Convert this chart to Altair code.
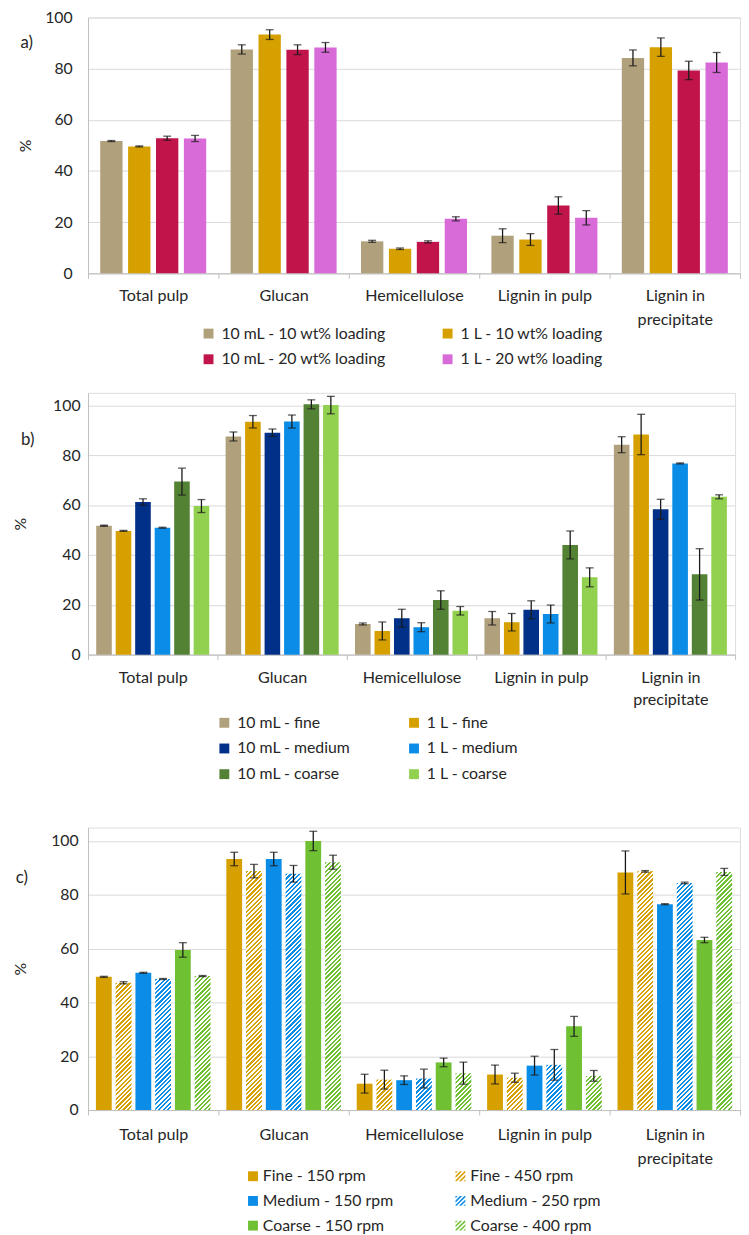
import altair as alt
import pandas as pd

FONT = "Lato"
TXT = "#262626"
AXC = "#bfbfbf"
GRID = "#d9d9d9"

categories = ["Total pulp", "Glucan", "Hemicellulose", "Lignin in pulp", "Lignin in precipitate"]
y_ticks = [0, 20, 40, 60, 80, 100]

# ---------------- panel a ----------------
a_series = ["10 mL - 10 wt% loading", "1 L - 10 wt% loading", "10 mL - 20 wt% loading", "1 L - 20 wt% loading"]
a_colors = ["#b0a07b", "#d6a000", "#c0144a", "#d96bd9"]
a_10ml_10wt = [51.7, 87.5, 12.5, 14.7, 84.2]
a_10ml_10wt_err = [0.2, 1.8, 0.4, 2.7, 3.1]
a_1l_10wt = [49.6, 93.3, 9.6, 13.2, 88.4]
a_1l_10wt_err = [0.2, 1.9, 0.3, 2.3, 3.6]
a_10ml_20wt = [52.8, 87.4, 12.3, 26.5, 79.3]
a_10ml_20wt_err = [0.8, 1.9, 0.4, 3.4, 3.6]
a_1l_20wt = [52.7, 88.3, 21.3, 21.7, 82.4]
a_1l_20wt_err = [1.2, 1.9, 0.8, 2.8, 3.9]

# ---------------- panel b ----------------
b_series = ["10 mL - fine", "1 L - fine", "10 mL - medium", "1 L - medium", "10 mL - coarse", "1 L - coarse"]
b_colors = ["#b0a07b", "#d6a000", "#003087", "#0b8ce6", "#548235", "#92d050"]
b_10ml_fine = [51.7, 87.5, 12.3, 14.6, 84.2]
b_10ml_fine_err = [0.2, 1.8, 0.4, 2.7, 3.2]
b_1l_fine = [49.6, 93.4, 9.5, 13.0, 88.3]
b_1l_fine_err = [0.2, 2.5, 3.6, 3.5, 8.1]
b_10ml_medium = [61.2, 89.0, 14.6, 18.0, 58.3]
b_10ml_medium_err = [1.3, 1.5, 3.6, 3.6, 4.0]
b_1l_medium = [50.9, 93.5, 11.0, 16.3, 76.7]
b_1l_medium_err = [0.2, 2.6, 1.8, 3.6, 0.2]
b_10ml_coarse = [69.4, 100.4, 21.9, 44.0, 32.2]
b_10ml_coarse_err = [5.4, 1.8, 3.7, 5.6, 10.3]
b_1l_coarse = [59.6, 100.1, 17.6, 31.0, 63.3]
b_1l_coarse_err = [2.6, 3.5, 1.7, 3.8, 0.8]

# ---------------- panel c ----------------
c_series = ["Fine - 150 rpm", "Fine - 450 rpm", "Medium - 150 rpm", "Medium - 250 rpm", "Coarse - 150 rpm", "Coarse - 400 rpm"]
c_colors = ["#d6a000", "#d6a000", "#0b8ce6", "#0b8ce6", "#70c034", "#70c034"]
c_hatched = [False, True, False, True, False, True]
c_fine_150 = [49.5, 93.3, 9.8, 13.2, 88.3]
c_fine_150_err = [0.2, 2.5, 3.5, 3.5, 8.0]
c_fine_450 = [47.3, 88.8, 11.3, 12.0, 88.7]
c_fine_450_err = [0.4, 2.5, 3.5, 1.7, 0.3]
c_medium_150 = [51.0, 93.3, 11.1, 16.5, 76.5]
c_medium_150_err = [0.2, 2.5, 1.6, 3.5, 0.2]
c_medium_250 = [48.7, 87.8, 11.7, 16.8, 84.4]
c_medium_250_err = [0.2, 3.1, 3.5, 5.7, 0.3]
c_coarse_150 = [59.5, 100.0, 17.7, 31.1, 63.2]
c_coarse_150_err = [2.7, 3.6, 1.6, 3.7, 1.0]
c_coarse_400 = [49.8, 92.1, 13.7, 12.7, 88.5]
c_coarse_400_err = [0.2, 2.6, 4.1, 2.0, 1.3]


def long_df(series, values, errors):
    rows = []
    for s, vals, errs in zip(series, values, errors):
        for cat, v, e in zip(categories, vals, errs):
            rows.append({"cat": cat, "series": s, "value": v, "err": e, "lo": v - e, "hi": v + e})
    return pd.DataFrame(rows)


df_a = long_df(a_series, [a_10ml_10wt, a_1l_10wt, a_10ml_20wt, a_1l_20wt],
               [a_10ml_10wt_err, a_1l_10wt_err, a_10ml_20wt_err, a_1l_20wt_err])
df_b = long_df(b_series, [b_10ml_fine, b_1l_fine, b_10ml_medium, b_1l_medium, b_10ml_coarse, b_1l_coarse],
               [b_10ml_fine_err, b_1l_fine_err, b_10ml_medium_err, b_1l_medium_err, b_10ml_coarse_err, b_1l_coarse_err])
df_c = long_df(c_series, [c_fine_150, c_fine_450, c_medium_150, c_medium_250, c_coarse_150, c_coarse_400],
               [c_fine_150_err, c_fine_450_err, c_medium_150_err, c_medium_250_err, c_coarse_150_err, c_coarse_400_err])

LABEL_EXPR = "datum.label == 'Lignin in precipitate' ? ['Lignin in', 'precipitate'] : datum.label"


def enc_x(labpad, lineh):
    return alt.X("cat:N", sort=categories, title=None,
                 scale=alt.Scale(paddingInner=0, paddingOuter=0),
                 axis=alt.Axis(labelAngle=0, tickBand="extent", tickSize=5, tickColor=AXC,
                               domainColor=AXC, labelPadding=labpad, labelLineHeight=lineh,
                               labelExpr=LABEL_EXPR, labelFont=FONT, labelFontSize=16.3,
                               labelColor=TXT, grid=False))


def enc_xoff(series, po):
    return alt.XOffset("series:N", sort=series,
                       scale=alt.Scale(domain=series, paddingInner=0.2, paddingOuter=po))


def y_axis(ylabpad, titlex, height):
    return alt.Axis(values=y_ticks, grid=True, gridColor=GRID, domainColor=AXC, ticks=False,
                    tickSize=0, labelPadding=ylabpad, labelFont=FONT, labelFontSize=16,
                    labelColor=TXT, title="%", titleFont=FONT, titleFontSize=16,
                    titleFontWeight="normal", titleColor=TXT, titleAngle=-90,
                    titleX=titlex, titleY=height / 2, titleAlign="center",
                    titleBaseline="middle")


def enc_y(field, ymax, ylabpad, titlex, height):
    return alt.Y(field, scale=alt.Scale(domain=[0, ymax], nice=False),
                 axis=y_axis(ylabpad, titlex, height))


def error_layers(df, series, po, ymax, ylabpad, titlex, height):
    base = alt.Chart(df)
    whisk = base.mark_rule(color="#1a1a1a", strokeWidth=1.3).encode(
        x=alt.X("cat:N", sort=categories), xOffset=enc_xoff(series, po),
        y=enc_y("lo:Q", ymax, ylabpad, titlex, height), y2="hi:Q")
    cap_lo = base.mark_tick(color="#1a1a1a", size=8, thickness=1.3).encode(
        x=alt.X("cat:N", sort=categories), xOffset=enc_xoff(series, po),
        y=enc_y("lo:Q", ymax, ylabpad, titlex, height))
    cap_hi = base.mark_tick(color="#1a1a1a", size=8, thickness=1.3).encode(
        x=alt.X("cat:N", sort=categories), xOffset=enc_xoff(series, po),
        y=enc_y("hi:Q", ymax, ylabpad, titlex, height))
    return [whisk, cap_lo, cap_hi]


def letter_layer(letter, lx, ly):
    return alt.Chart(pd.DataFrame({"t": [letter]})).mark_text(
        font=FONT, fontSize=17, color=TXT, align="center", baseline="middle").encode(
        text="t:N", x=alt.value(lx), y=alt.value(ly))


def legend(lx, ly, colpad, pad=0):
    return alt.Legend(title=None, orient="none", legendX=lx, legendY=ly, columns=2,
                      direction="horizontal", columnPadding=colpad, rowPadding=10,
                      symbolType="square", symbolSize=100, symbolStrokeWidth=0,
                      labelFont=FONT, labelFontSize=16, labelColor=TXT,
                      labelOffset=5, padding=pad, labelLimit=300)


def simple_panel(df, series, colors, W, H, ymax, po, ylabpad, titlex, labpad, lineh,
                 letter, lxy, leg):
    bars = alt.Chart(df).mark_bar().encode(
        x=enc_x(labpad, lineh), xOffset=enc_xoff(series, po),
        y=enc_y("value:Q", ymax, ylabpad, titlex, H),
        color=alt.Color("series:N", sort=series, scale=alt.Scale(domain=series, range=colors),
                        legend=leg))
    layers = [bars] + error_layers(df, series, po, ymax, ylabpad, titlex, H) + [letter_layer(letter, *lxy)]
    return alt.layer(*layers).properties(width=W, height=H)


# panel a
WA, HA = 660, 259
pa = simple_panel(df_a, a_series, a_colors, WA, HA, 100, 0.437, 16, -63, 10, 24,
                  "a)", (-62, 26), legend(114, 312, 54))

# panel b
WB, HB = 655, 265
PB = 20
pb = simple_panel(df_b, b_series, b_colors, WB, HB, 105, 0.42, 8, -68, 10, 22,
                  "b)", (-61, 48), legend(130 - PB, 326 - PB, 56, PB))

# panel c (hatched bars for the higher-rpm series)
WC, HC = 660, 286
PO_C = 0.4
step_c = (WC / len(categories)) / (len(c_series) - 0.2 + 2 * PO_C)
bar_w = step_c * 0.8
HATCH_PERIOD = 4.5


def hatch_gradient(color, w, h):
    L = w + h
    d = w * w + h * h
    T = HATCH_PERIOD / L
    stops = []
    k = 0
    while k * T < 1:
        a = round(k * T, 5)
        b = round(min((k + 0.5) * T, 1), 5)
        c = round(min((k + 1) * T, 1), 5)
        stops += [{"offset": a, "color": color}, {"offset": b, "color": color},
                  {"offset": b, "color": "#ffffff"}, {"offset": c, "color": "#ffffff"}]
        k += 1
    return {"gradient": "linear", "x1": 0, "y1": 0, "x2": L * w / d, "y2": L * h / d, "stops": stops}


color_of = dict(zip(c_series, c_colors))
hatched_names = [s for s, h in zip(c_series, c_hatched) if h]
df_c_solid = df_c[~df_c["series"].isin(hatched_names)].reset_index(drop=True)
df_c_hatch = df_c[df_c["series"].isin(hatched_names)].reset_index(drop=True)
df_c_hatch["grad"] = [hatch_gradient(color_of[s], bar_w, v * HC / 105.0)
                      for s, v in zip(df_c_hatch["series"], df_c_hatch["value"])]


def clip(poly, f):
    out = []
    n = len(poly)
    for i in range(n):
        p, q = poly[i], poly[(i + 1) % n]
        fp, fq = f(p), f(q)
        if fp >= 0:
            out.append(p)
        if (fp >= 0) != (fq >= 0):
            t = fp / (fp - fq)
            out.append((p[0] + t * (q[0] - p[0]), p[1] + t * (q[1] - p[1])))
    return out


def hatch_symbol(period=0.9):
    square = [(-1, -1), (1, -1), (1, 1), (-1, 1)]
    parts = []
    c = -2.0
    while c < 2.0:
        poly = clip(square, lambda p, c=c: p[0] + p[1] - c)
        poly = clip(poly, lambda p, c=c: c + period / 2 - (p[0] + p[1]))
        if len(poly) >= 3:
            parts.append("M" + "L".join(f"{x:.3f},{y:.3f}" for x, y in poly) + "Z")
        c += period
    return "".join(parts)


SQUARE = "M-1,-1L1,-1L1,1L-1,1Z"
HATCH = hatch_symbol()
c_shapes = [HATCH if h else SQUARE for h in c_hatched]

c_solid = alt.Chart(df_c_solid).mark_bar().encode(
    x=enc_x(12, 24), xOffset=enc_xoff(c_series, PO_C),
    y=enc_y("value:Q", 105, 10, -68, HC),
    color=alt.Color("series:N", scale=alt.Scale(domain=c_series, range=c_colors), legend=None))
c_hatch = alt.Chart(df_c_hatch).mark_bar().encode(
    x=alt.X("cat:N", sort=categories), xOffset=enc_xoff(c_series, PO_C),
    y=enc_y("value:Q", 105, 10, -68, HC),
    fill=alt.Fill("grad:N", scale=None, legend=None))
pc_main = alt.layer(c_solid, c_hatch, *error_layers(df_c, c_series, PO_C, 105, 10, -68, HC),
                    letter_layer("c)", -67, 51))

# legend of panel c (two columns, row-major), with hatched key symbols
key_df = pd.DataFrame({"series": c_series,
                       "kcol": [i % 2 for i in range(len(c_series))],
                       "krow": [i // 2 for i in range(len(c_series))]})
key_x = alt.X("kcol:Q", scale=alt.Scale(domain=[0, 1], range=[167, 377]), axis=None)
key_y = alt.Y("krow:Q", scale=alt.Scale(domain=[0, 2], range=[HC + 67, HC + 117]), axis=None)
key_sym = alt.Chart(key_df).mark_point(filled=True, size=100, strokeWidth=0, opacity=1).encode(
    x=key_x, y=key_y,
    color=alt.Color("series:N", scale=alt.Scale(domain=c_series, range=c_colors), legend=None),
    shape=alt.Shape("series:N", scale=alt.Scale(domain=c_series, range=c_shapes), legend=None))
key_txt = alt.Chart(key_df).mark_text(align="left", baseline="middle", dx=10, font=FONT,
                                      fontSize=16, color=TXT).encode(
    x=key_x, y=key_y, text="series:N")
pc = alt.layer(pc_main, alt.layer(key_sym, key_txt)).resolve_scale(
    x="independent", y="independent").properties(width=WC, height=HC)

chart = alt.vconcat(pa, pb, pc, spacing=24).resolve_scale(
    x="independent", y="independent", color="independent", xOffset="independent"
).resolve_legend(color="independent").properties(
    padding={"left": 4, "top": -7, "right": 0, "bottom": 0}
).configure_view(stroke=None).configure(font=FONT)

chart.save("out.html", embed_options={"renderer": "svg", "actions": False})
